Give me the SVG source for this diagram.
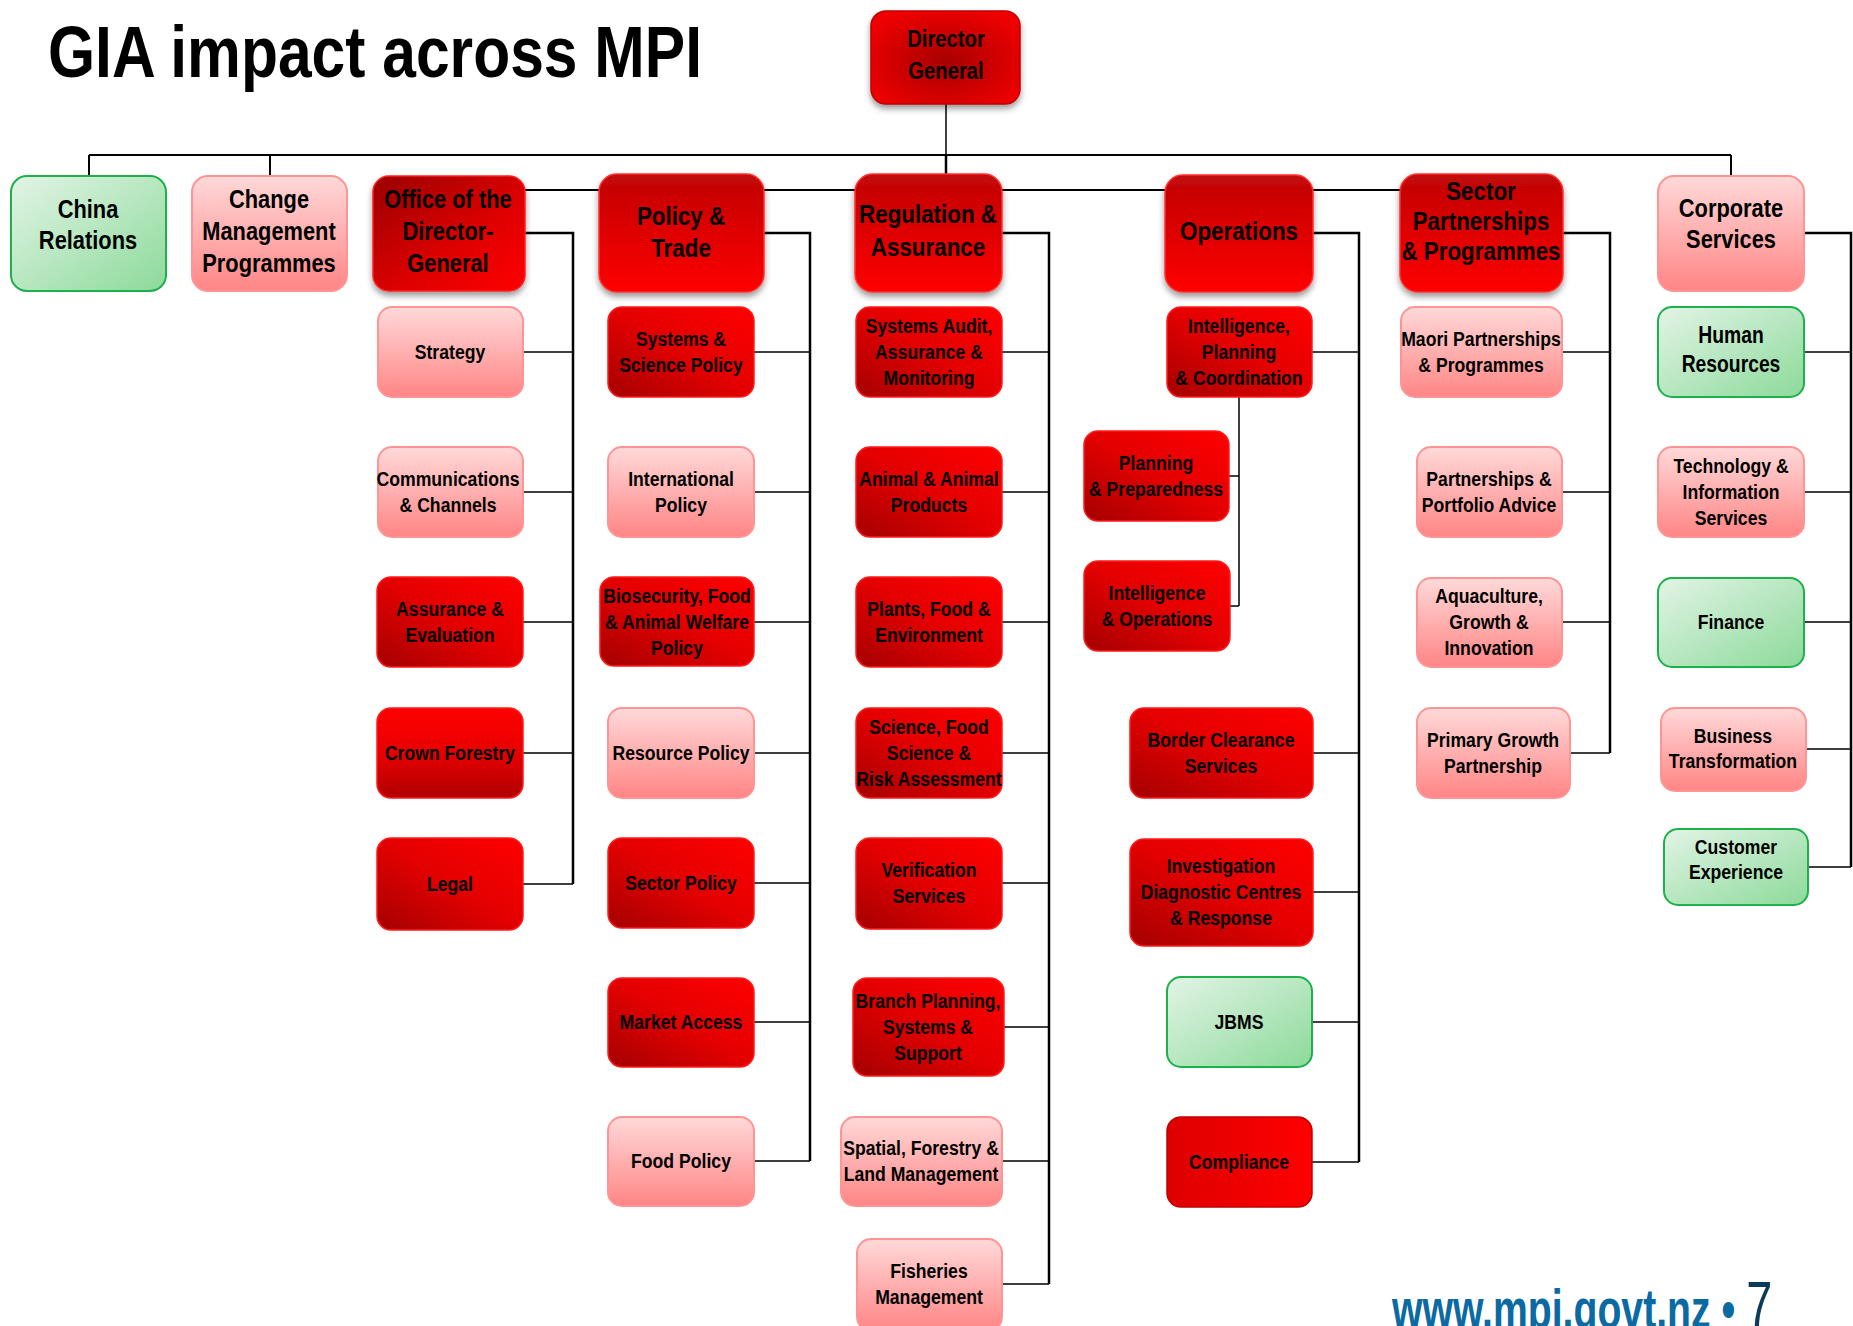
<svg xmlns="http://www.w3.org/2000/svg" width="1853" height="1326" viewBox="0 0 1853 1326">
<defs>
<linearGradient id="gTop" x1="0" y1="0" x2="0" y2="1"><stop offset="0" stop-color="#bf0808"/><stop offset="0.45" stop-color="#dc0000"/><stop offset="1" stop-color="#ff0000"/></linearGradient>
<linearGradient id="gOff" x1="0" y1="0" x2="1" y2="1"><stop offset="0" stop-color="#9a0000"/><stop offset="0.6" stop-color="#e00000"/><stop offset="1" stop-color="#ff0000"/></linearGradient>
<radialGradient id="gDG" cx="0.5" cy="0.55" r="0.6"><stop offset="0" stop-color="#a80000"/><stop offset="1" stop-color="#ee0000"/></radialGradient>
<linearGradient id="gRed" x1="0" y1="1" x2="1" y2="0"><stop offset="0" stop-color="#a40000"/><stop offset="0.5" stop-color="#e30000"/><stop offset="1" stop-color="#ff0000"/></linearGradient>
<linearGradient id="gRedV" x1="0" y1="0" x2="0" y2="1"><stop offset="0" stop-color="#ff0000"/><stop offset="0.5" stop-color="#e80000"/><stop offset="1" stop-color="#b00000"/></linearGradient>
<linearGradient id="gRedH" x1="0" y1="0" x2="1" y2="0"><stop offset="0" stop-color="#dd0000"/><stop offset="1" stop-color="#ff0000"/></linearGradient>
<linearGradient id="gPink" x1="0" y1="0" x2="0" y2="1"><stop offset="0" stop-color="#ffd9d9"/><stop offset="1" stop-color="#ff8585"/></linearGradient>
<linearGradient id="gGreen" x1="0" y1="0" x2="1" y2="1"><stop offset="0" stop-color="#e2f4e6"/><stop offset="1" stop-color="#8cda9a"/></linearGradient>
<filter id="sh" x="-20%" y="-20%" width="140%" height="150%"><feGaussianBlur in="SourceAlpha" stdDeviation="3"/><feOffset dy="4" result="b"/><feFlood flood-color="#000" flood-opacity="0.4"/><feComposite in2="b" operator="in"/><feMerge><feMergeNode/><feMergeNode in="SourceGraphic"/></feMerge></filter>
<style>
.top{fill:url(#gTop);stroke:#ff3030;stroke-width:1.5;filter:url(#sh)}
.off{fill:url(#gOff);stroke:#ff2020;stroke-width:1.5;filter:url(#sh)}
.dg{fill:url(#gDG);stroke:#c00000;stroke-width:1.5;filter:url(#sh)}
.red{fill:url(#gRed);stroke:#ff1a1a;stroke-width:1.5}
.redv{fill:url(#gRedV);stroke:#ff1a1a;stroke-width:1.5}
.redh{fill:url(#gRedH);stroke:#c00000;stroke-width:1.5}
.pink{fill:url(#gPink);stroke:#ff9494;stroke-width:2}
.green{fill:url(#gGreen);stroke:#1db04b;stroke-width:2}
text{font-family:"Liberation Sans",Arial,sans-serif;font-weight:bold;fill:#000;text-anchor:middle}
.t1{font-size:26px}
.t2{font-size:21px}
.t3{font-size:23px}
.con path{fill:none;stroke:#000}
.thick{stroke-width:2.5}
.mid{stroke-width:2}
.thin{stroke-width:1.5}
</style>
</defs>
<rect width="1853" height="1326" fill="#fff"/>
<text x="48" y="77" style="font-size:73px;text-anchor:start" textLength="654" lengthAdjust="spacingAndGlyphs">GIA impact across MPI</text>

<g id="connectors" class="con">
<path class="thin" d="M946 104V155"/>
<path class="thick" d="M946 155V176"/>
<path class="mid" d="M89 155H1731M89 155V177M270 155V177M1731 155V177"/>
<path class="mid" d="M449 190H1481"/>
<path class="thick" d="M525 233H573V884"/>
<path class="thin" d="M523 352H573M523 492H573M523 622H573M523 753H573M523 884H573"/>
<path class="thick" d="M764 233H810V1161"/>
<path class="thin" d="M754 352H810M754 492H810M754 622H810M754 753H810M754 883H810M754 1022H810M754 1161H810"/>
<path class="thick" d="M1002 233H1049V1284"/>
<path class="thin" d="M1002 352H1049M1002 492H1049M1002 622H1049M1002 753H1049M1002 883H1049M1004 1027H1049M1002 1161H1049M1002 1284H1049"/>
<path class="thick" d="M1313 233H1359V1162"/>
<path class="thin" d="M1312 352H1359M1313 753H1359M1313 892H1359M1312 1022H1359M1312 1162H1359"/>
<path class="thin" d="M1239 397V606M1229 476H1239M1230 606H1239"/>
<path class="thick" d="M1563 233H1610V753"/>
<path class="thin" d="M1562 352H1610M1562 492H1610M1562 622H1610M1570 753H1610"/>
<path class="thick" d="M1804 233H1851V867"/>
<path class="thin" d="M1804 352H1851M1804 492H1851M1804 622H1851M1806 749H1851M1808 867H1851"/>
</g>

<g id="n-dg"><rect class="dg" x="871" y="11" width="149" height="93" rx="15"/><text class="t3" transform="matrix(0.88 0 0 1 946 0)"><tspan x="0" y="47">Director</tspan><tspan x="0" y="79">General</tspan></text></g>
<g id="n-china"><rect class="green" x="11" y="176" width="155" height="115" rx="16"/><text class="t1" transform="matrix(0.84 0 0 1 88 0)"><tspan x="0" y="218">China</tspan><tspan x="0" y="249">Relations</tspan></text></g>
<g id="n-change"><rect class="pink" x="192" y="176" width="155" height="115" rx="16"/><text class="t1" transform="matrix(0.84 0 0 1 269 0)"><tspan x="0" y="208">Change</tspan><tspan x="0" y="240">Management</tspan><tspan x="0" y="272">Programmes</tspan></text></g>
<g id="n-office"><rect class="off" x="373" y="176" width="152" height="115" rx="16"/><text class="t1" transform="matrix(0.84 0 0 1 448 0)"><tspan x="0" y="208">Office of the</tspan><tspan x="0" y="240">Director-</tspan><tspan x="0" y="272">General</tspan></text></g>
<g id="n-policy"><rect class="top" x="599" y="174" width="165" height="118" rx="18"/><text class="t1" transform="matrix(0.86 0 0 1 681 0)"><tspan x="0" y="225">Policy &amp;</tspan><tspan x="0" y="257">Trade</tspan></text></g>
<g id="n-reg"><rect class="top" x="855" y="174" width="147" height="118" rx="18"/><text class="t1" transform="matrix(0.86 0 0 1 928 0)"><tspan x="0" y="223">Regulation &amp;</tspan><tspan x="0" y="256">Assurance</tspan></text></g>
<g id="n-ops"><rect class="top" x="1165" y="175" width="148" height="117" rx="18"/><text class="t1" transform="matrix(0.86 0 0 1 1239 0)"><tspan x="0" y="240">Operations</tspan></text></g>
<g id="n-sector"><rect class="top" x="1400" y="174" width="163" height="118" rx="18"/><text class="t1" transform="matrix(0.86 0 0 1 1481 0)"><tspan x="0" y="200">Sector</tspan><tspan x="0" y="230">Partnerships</tspan><tspan x="0" y="260">&amp; Programmes</tspan></text></g>
<g id="n-corp"><rect class="pink" x="1658" y="176" width="146" height="115" rx="16"/><text class="t1" transform="matrix(0.84 0 0 1 1731 0)"><tspan x="0" y="217">Corporate</tspan><tspan x="0" y="248">Services</tspan></text></g>

<g id="n-strategy"><rect class="pink" x="378" y="307" width="145" height="90" rx="14"/><text class="t2" transform="matrix(0.84 0 0 1 450 0)"><tspan x="0" y="359">Strategy</tspan></text></g>
<g id="n-comms"><rect class="pink" x="378" y="447" width="145" height="90" rx="14"/><text class="t2" transform="matrix(0.84 0 0 1 448 0)"><tspan x="0" y="486">Communications</tspan><tspan x="0" y="512">&amp; Channels</tspan></text></g>
<g id="n-assur"><rect class="red" x="377" y="577" width="146" height="90" rx="14"/><text class="t2" transform="matrix(0.84 0 0 1 450 0)"><tspan x="0" y="616">Assurance &amp;</tspan><tspan x="0" y="642">Evaluation</tspan></text></g>
<g id="n-crown"><rect class="redv" x="377" y="708" width="146" height="90" rx="14"/><text class="t2" transform="matrix(0.84 0 0 1 450 0)"><tspan x="0" y="760">Crown Forestry</tspan></text></g>
<g id="n-legal"><rect class="red" x="377" y="838" width="146" height="92" rx="14"/><text class="t2" transform="matrix(0.84 0 0 1 450 0)"><tspan x="0" y="891">Legal</tspan></text></g>

<g id="n-syssci"><rect class="red" x="608" y="307" width="146" height="90" rx="14"/><text class="t2" transform="matrix(0.84 0 0 1 681 0)"><tspan x="0" y="346">Systems &amp;</tspan><tspan x="0" y="372">Science Policy</tspan></text></g>
<g id="n-intl"><rect class="pink" x="608" y="447" width="146" height="90" rx="14"/><text class="t2" transform="matrix(0.84 0 0 1 681 0)"><tspan x="0" y="486">International</tspan><tspan x="0" y="512">Policy</tspan></text></g>
<g id="n-biosec"><rect class="red" x="600" y="577" width="154" height="89" rx="14"/><text class="t2" transform="matrix(0.84 0 0 1 677 0)"><tspan x="0" y="603">Biosecurity, Food</tspan><tspan x="0" y="629">&amp; Animal Welfare</tspan><tspan x="0" y="655">Policy</tspan></text></g>
<g id="n-resource"><rect class="pink" x="608" y="708" width="146" height="90" rx="14"/><text class="t2" transform="matrix(0.84 0 0 1 681 0)"><tspan x="0" y="760">Resource Policy</tspan></text></g>
<g id="n-secpol"><rect class="red" x="608" y="838" width="146" height="90" rx="14"/><text class="t2" transform="matrix(0.84 0 0 1 681 0)"><tspan x="0" y="890">Sector Policy</tspan></text></g>
<g id="n-market"><rect class="red" x="608" y="978" width="146" height="89" rx="14"/><text class="t2" transform="matrix(0.84 0 0 1 681 0)"><tspan x="0" y="1029">Market Access</tspan></text></g>
<g id="n-foodpol"><rect class="pink" x="608" y="1117" width="146" height="89" rx="14"/><text class="t2" transform="matrix(0.84 0 0 1 681 0)"><tspan x="0" y="1168">Food Policy</tspan></text></g>

<g id="n-sysaudit"><rect class="red" x="856" y="307" width="146" height="90" rx="14"/><text class="t2" transform="matrix(0.84 0 0 1 929 0)"><tspan x="0" y="333">Systems Audit,</tspan><tspan x="0" y="359">Assurance &amp;</tspan><tspan x="0" y="385">Monitoring</tspan></text></g>
<g id="n-animal"><rect class="red" x="856" y="447" width="146" height="90" rx="14"/><text class="t2" transform="matrix(0.84 0 0 1 929 0)"><tspan x="0" y="486">Animal &amp; Animal</tspan><tspan x="0" y="512">Products</tspan></text></g>
<g id="n-plants"><rect class="red" x="856" y="577" width="146" height="90" rx="14"/><text class="t2" transform="matrix(0.84 0 0 1 929 0)"><tspan x="0" y="616">Plants, Food &amp;</tspan><tspan x="0" y="642">Environment</tspan></text></g>
<g id="n-science"><rect class="red" x="856" y="708" width="146" height="90" rx="14"/><text class="t2" transform="matrix(0.84 0 0 1 929 0)"><tspan x="0" y="734">Science, Food</tspan><tspan x="0" y="760">Science &amp;</tspan><tspan x="0" y="786">Risk Assessment</tspan></text></g>
<g id="n-verif"><rect class="red" x="856" y="838" width="146" height="91" rx="14"/><text class="t2" transform="matrix(0.84 0 0 1 929 0)"><tspan x="0" y="877">Verification</tspan><tspan x="0" y="903">Services</tspan></text></g>
<g id="n-branch"><rect class="red" x="853" y="978" width="151" height="98" rx="14"/><text class="t2" transform="matrix(0.84 0 0 1 928 0)"><tspan x="0" y="1008">Branch Planning,</tspan><tspan x="0" y="1034">Systems &amp;</tspan><tspan x="0" y="1060">Support</tspan></text></g>
<g id="n-spatial"><rect class="pink" x="841" y="1117" width="161" height="89" rx="14"/><text class="t2" transform="matrix(0.84 0 0 1 921 0)"><tspan x="0" y="1155">Spatial, Forestry &amp;</tspan><tspan x="0" y="1181">Land Management</tspan></text></g>
<g id="n-fish"><rect class="pink" x="857" y="1239" width="145" height="92" rx="14"/><text class="t2" transform="matrix(0.84 0 0 1 929 0)"><tspan x="0" y="1278">Fisheries</tspan><tspan x="0" y="1304">Management</tspan></text></g>

<g id="n-ipc"><rect class="red" x="1167" y="307" width="145" height="90" rx="14"/><text class="t2" transform="matrix(0.84 0 0 1 1239 0)"><tspan x="0" y="333">Intelligence,</tspan><tspan x="0" y="359">Planning</tspan><tspan x="0" y="385">&amp; Coordination</tspan></text></g>
<g id="n-planprep"><rect class="red" x="1084" y="431" width="145" height="90" rx="14"/><text class="t2" transform="matrix(0.84 0 0 1 1156 0)"><tspan x="0" y="470">Planning</tspan><tspan x="0" y="496">&amp; Preparedness</tspan></text></g>
<g id="n-intelops"><rect class="red" x="1084" y="561" width="146" height="90" rx="14"/><text class="t2" transform="matrix(0.84 0 0 1 1157 0)"><tspan x="0" y="600">Intelligence</tspan><tspan x="0" y="626">&amp; Operations</tspan></text></g>
<g id="n-border"><rect class="red" x="1130" y="708" width="183" height="90" rx="14"/><text class="t2" transform="matrix(0.84 0 0 1 1221 0)"><tspan x="0" y="747">Border Clearance</tspan><tspan x="0" y="773">Services</tspan></text></g>
<g id="n-invest"><rect class="red" x="1130" y="839" width="183" height="107" rx="14"/><text class="t2" transform="matrix(0.84 0 0 1 1221 0)"><tspan x="0" y="873">Investigation</tspan><tspan x="0" y="899">Diagnostic Centres</tspan><tspan x="0" y="925">&amp; Response</tspan></text></g>
<g id="n-jbms"><rect class="green" x="1167" y="977" width="145" height="90" rx="14"/><text class="t2" transform="matrix(0.84 0 0 1 1239 0)"><tspan x="0" y="1029">JBMS</tspan></text></g>
<g id="n-compliance"><rect class="redh" x="1167" y="1117" width="145" height="90" rx="14"/><text class="t2" transform="matrix(0.84 0 0 1 1239 0)"><tspan x="0" y="1169">Compliance</tspan></text></g>

<g id="n-maori"><rect class="pink" x="1401" y="307" width="161" height="90" rx="14"/><text class="t2" transform="matrix(0.84 0 0 1 1481 0)"><tspan x="0" y="346">Maori Partnerships</tspan><tspan x="0" y="372">&amp; Programmes</tspan></text></g>
<g id="n-portfolio"><rect class="pink" x="1417" y="447" width="145" height="90" rx="14"/><text class="t2" transform="matrix(0.84 0 0 1 1489 0)"><tspan x="0" y="486">Partnerships &amp;</tspan><tspan x="0" y="512">Portfolio Advice</tspan></text></g>
<g id="n-aqua"><rect class="pink" x="1417" y="578" width="145" height="89" rx="14"/><text class="t2" transform="matrix(0.84 0 0 1 1489 0)"><tspan x="0" y="603">Aquaculture,</tspan><tspan x="0" y="629">Growth &amp;</tspan><tspan x="0" y="655">Innovation</tspan></text></g>
<g id="n-pgp"><rect class="pink" x="1417" y="708" width="153" height="90" rx="14"/><text class="t2" transform="matrix(0.84 0 0 1 1493 0)"><tspan x="0" y="747">Primary Growth</tspan><tspan x="0" y="773">Partnership</tspan></text></g>

<g id="n-hr"><rect class="green" x="1658" y="307" width="146" height="90" rx="14"/><text class="t3" transform="matrix(0.84 0 0 1 1731 0)"><tspan x="0" y="343">Human</tspan><tspan x="0" y="372">Resources</tspan></text></g>
<g id="n-tech"><rect class="pink" x="1658" y="447" width="146" height="90" rx="14"/><text class="t2" transform="matrix(0.84 0 0 1 1731 0)"><tspan x="0" y="473">Technology &amp;</tspan><tspan x="0" y="499">Information</tspan><tspan x="0" y="525">Services</tspan></text></g>
<g id="n-finance"><rect class="green" x="1658" y="578" width="146" height="89" rx="14"/><text class="t2" transform="matrix(0.84 0 0 1 1731 0)"><tspan x="0" y="629">Finance</tspan></text></g>
<g id="n-bt"><rect class="pink" x="1661" y="708" width="145" height="83" rx="14"/><text class="t2" transform="matrix(0.84 0 0 1 1733 0)"><tspan x="0" y="743">Business</tspan><tspan x="0" y="768">Transformation</tspan></text></g>
<g id="n-cx"><rect class="green" x="1664" y="829" width="144" height="76" rx="14"/><text class="t2" transform="matrix(0.84 0 0 1 1736 0)"><tspan x="0" y="854">Customer</tspan><tspan x="0" y="879">Experience</tspan></text></g>

<g id="footer">
<text transform="matrix(0.7 0 0 1 1392 0)" x="0" y="1328" style="font-size:56px;text-anchor:start;fill:#0b6aa2">www.mpi.govt.nz • <tspan style="font-size:67px;font-weight:normal;fill:#0b3a5c">7</tspan></text>
</g>
</svg>
